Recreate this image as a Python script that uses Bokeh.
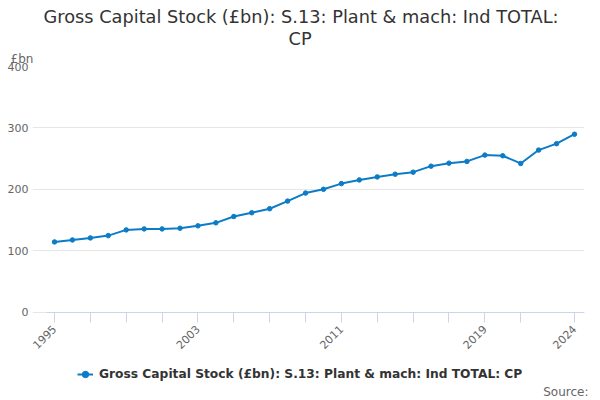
import math
from bokeh.plotting import figure
from bokeh.models import (ColumnDataSource, Range1d, FixedTicker, Title,
                          Legend, LegendItem)
from bokeh.embed import file_html
from bokeh.resources import INLINE

years = list(range(1995, 2025))
values = [114.3, 117.5, 120.8, 124.6, 133.9, 135.5, 135.5, 136.6, 140.5, 145.4,
          155.7, 161.8, 168.4, 180.8, 193.9, 200.0, 209.3, 215.3, 220.2, 224.6,
          227.9, 237.7, 242.6, 245.4, 255.7, 254.6, 242.1, 263.9, 274.3, 289.7]
tick_years = list(range(1995, 2022, 2)) + [2024]
label_years = [1995, 2003, 2011, 2019, 2024]
y_ticks = [0, 100, 200, 300, 400]

title_line1 = "Gross Capital Stock (£bn): S.13: Plant & mach: Ind TOTAL:"
title_line2 = "CP"
series_name = "Gross Capital Stock (£bn): S.13: Plant & mach: Ind TOTAL: CP"
unit_label = "£bn"
source_text = "Source:"

FONT = "DejaVu Sans"
LINE_COLOR = "#0c7cc7"

# The frame runs down to the source line; the value axis keeps 0..400 in the
# upper part and the category axis is drawn at y = 0, leaving room below it
# for the rotated year labels and the legend.
p = figure(width=600, height=400, output_backend="svg", toolbar_location=None,
           x_range=Range1d(1993.773, 2024.558), y_range=Range1d(-117.9, 400),
           min_border_left=32, min_border_right=16, min_border_top=66,
           min_border_bottom=16)
p.title = None
p.outline_line_color = None

src = ColumnDataSource(dict(x=years, y=values))
ln = p.line("x", "y", source=src, line_color=LINE_COLOR, line_width=2)
sc = p.scatter("x", "y", source=src, size=4.5, fill_color=LINE_COLOR,
               line_color=LINE_COLOR)

# titles (first added = nearest to the plot)
t_unit = Title(text=unit_label, align="left", offset=-22, text_font=FONT,
               text_font_size="12px", text_font_style="normal",
               text_color="#666666", standoff=2, text_line_height=0.8)
t2 = Title(text=title_line2, align="left", offset=256, text_font=FONT,
           text_font_size="17.75px", text_font_style="normal",
           text_color="#333333", standoff=0, text_line_height=0.8)
t1 = Title(text=title_line1, align="left", offset=11, text_font=FONT,
           text_font_size="17.75px", text_font_style="normal",
           text_color="#333333", standoff=0)
p.add_layout(t_unit, "above")
p.add_layout(t2, "above")
p.add_layout(t1, "above")

t_src = Title(text=source_text, align="right", offset=-4, text_font=FONT,
              text_font_size="12px", text_font_style="normal",
              text_color="#666666", standoff=0, vertical_align="top")
p.add_layout(t_src, "below")

xa = p.xaxis[0]
xa.fixed_location = 0
xa.bounds = (1994.554, 2024.558)
xa.ticker = FixedTicker(ticks=tick_years)
xa.major_label_overrides = {y: (str(y) if y in label_years else "") for y in tick_years}
xa.major_label_orientation = math.pi / 4
xa.major_label_text_font = FONT
xa.major_label_text_font_size = "11px"
xa.major_label_text_color = "#666666"
xa.axis_line_color = "#ccd6eb"
xa.major_tick_line_color = "#ccd6eb"
xa.major_tick_out = 10
xa.major_tick_in = 0
xa.minor_tick_line_color = None

ya = p.yaxis[0]
ya.ticker = FixedTicker(ticks=y_ticks)
ya.major_label_text_font = FONT
ya.major_label_text_font_size = "11px"
ya.major_label_text_color = "#666666"
ya.axis_line_color = None
ya.major_tick_line_color = None
ya.minor_tick_line_color = None
ya.major_label_standoff = -2

p.xgrid.grid_line_color = None
p.ygrid.grid_line_color = "#e6e6e6"
p.ygrid.ticker = FixedTicker(ticks=y_ticks)

legend = Legend(items=[LegendItem(label=series_name, renderers=[ln, sc])],
                location=(45, 0), orientation="horizontal",
                label_text_font=FONT, label_text_font_size="12.25px",
                label_text_font_style="bold", label_text_color="#333333",
                border_line_color=None, background_fill_alpha=0,
                padding=1, margin=0, glyph_width=16, glyph_height=16,
                label_standoff=6, label_height=20)
p.add_layout(legend, "center")

open("out.html", "w").write(file_html(p, INLINE))
